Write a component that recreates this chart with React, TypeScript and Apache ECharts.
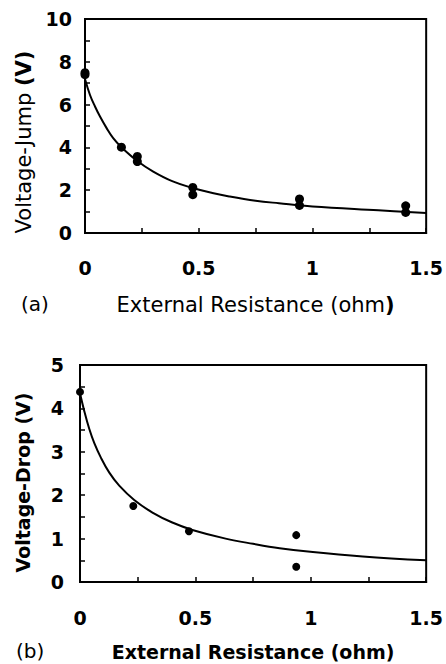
import React, { useEffect, useRef } from "react";
import * as echarts from "echarts";

// Panel (a): Voltage-Jump vs External Resistance
const jumpPointR = [0, 0, 0.16, 0.23, 0.23, 0.474, 0.474, 0.943, 0.943, 1.41, 1.41];
const jumpPointV = [7.49, 7.4, 4.01, 3.58, 3.34, 2.13, 1.79, 1.59, 1.29, 1.27, 0.96];
const jumpCurveR = [0, 0.022, 0.044, 0.066, 0.095, 0.124, 0.16, 0.233, 0.3, 0.386, 0.474, 0.56, 0.634, 0.75, 0.853, 1.0, 1.29, 1.5];
const jumpCurveV = [7.2, 6.45, 5.91, 5.44, 4.9, 4.43, 4.01, 3.34, 2.87, 2.41, 2.1, 1.87, 1.71, 1.51, 1.39, 1.24, 1.06, 0.93];

// Panel (b): Voltage-Drop vs External Resistance
const dropPointR = [0, 0.231, 0.472, 0.937, 0.937];
const dropPointV = [4.38, 1.75, 1.17, 1.08, 0.35];
const dropCurveR = [0, 0.019, 0.04, 0.062, 0.091, 0.127, 0.17, 0.235, 0.314, 0.4, 0.487, 0.631, 0.75, 0.865, 1.009, 1.225, 1.5];
const dropCurveV = [4.35, 3.93, 3.53, 3.2, 2.86, 2.52, 2.22, 1.89, 1.6, 1.37, 1.2, 1.0, 0.88, 0.78, 0.69, 0.59, 0.5];

const xTicks = [0, 0.5, 1, 1.5];

const FONT = "DejaVu Sans";

function zip(a: number[], b: number[]) {
  return a.map((v, i) => [v, b[i]]);
}

export default function App() {
  const ref = useRef<HTMLDivElement>(null);
  useEffect(() => {
    if (!ref.current) return;
    const chart = echarts.init(ref.current, undefined, { renderer: "svg" });
    const black = "#000";
    const axisCommon = () => ({
      axisLine: { show: true, lineStyle: { color: black, width: 2 } },
      axisTick: { show: true, inside: true, length: 5, lineStyle: { color: black, width: 1.5 } },
      minorTick: { show: true, splitNumber: 2, length: 5, lineStyle: { color: black, width: 1.5 } },
      splitLine: { show: false },
      axisLabel: {
        color: black,
        fontFamily: FONT,
        fontWeight: "bold",
        fontSize: 19,
        showMinLabel: true,
        showMaxLabel: true,
      },
    });
    const xAxisOf = (gridIndex: number, margin: number, name: string, rich: any, gap: number) => {
      const base = axisCommon();
      return {
        type: "value",
        gridIndex,
        min: 0,
        max: 1.5,
        interval: 0.5,
        name,
        nameLocation: "middle",
        nameGap: gap,
        nameTextStyle: { rich },
        ...base,
        axisLabel: { ...base.axisLabel, margin, formatter: (v: number) => (xTicks.includes(v) ? String(v) : "") },
      };
    };
    const yAxisOf = (gridIndex: number, max: number, interval: number, margin: number, name: string, rich: any, gap: number, shift: number) => {
      const base = axisCommon();
      return {
        type: "value",
        gridIndex,
        min: 0,
        max,
        interval,
        name,
        nameLocation: "middle",
        nameGap: gap,
        nameTextStyle: { rich, padding: [0, shift, 0, 0] },
        ...base,
        axisLabel: { ...base.axisLabel, margin },
      };
    };
    const option: any = {
      animation: false,
      backgroundColor: "#fff",
      textStyle: { fontFamily: FONT, color: black },
      grid: [
        { left: 85, right: 18, top: 19, height: 214, show: true, borderColor: black, borderWidth: 2 },
        { left: 80, right: 19, top: 365, height: 217, show: true, borderColor: black, borderWidth: 2 },
      ],
      xAxis: [
        xAxisOf(0, 25, "{r|External Resistance (ohm}{b|)}", {
          r: { fontFamily: FONT, fontSize: 21, color: black },
          b: { fontFamily: FONT, fontSize: 21, fontWeight: "bold", color: black },
        }, 61),
        xAxisOf(1, 26, "{b|External Resistance (ohm)}", {
          b: { fontFamily: FONT, fontSize: 19, fontWeight: "bold", color: black },
        }, 60),
      ],
      yAxis: [
        yAxisOf(0, 10, 2, 13, "{r|Voltage-Jump }{b|(V)}", {
          r: { fontFamily: FONT, fontSize: 21, color: black },
          b: { fontFamily: FONT, fontSize: 21, fontWeight: "bold", color: black },
        }, 51, 32),
        yAxisOf(1, 5, 1, 16, "{b|Voltage-Drop (V)}", {
          b: { fontFamily: FONT, fontSize: 19, fontWeight: "bold", color: black },
        }, 48, 18),
      ],
      graphic: [
        { type: "text", left: 21, top: 294, style: { text: "(a)", fontFamily: FONT, fontSize: 20, fill: black } },
        { type: "text", left: 16, top: 641, style: { text: "(b)", fontFamily: FONT, fontSize: 20, fill: black } },
      ],
      series: [
        {
          type: "line",
          xAxisIndex: 0,
          yAxisIndex: 0,
          data: zip(jumpCurveR, jumpCurveV),
          smooth: 0.4,
          showSymbol: false,
          symbol: "none",
          lineStyle: { color: black, width: 2 },
        },
        {
          type: "scatter",
          xAxisIndex: 0,
          yAxisIndex: 0,
          data: zip(jumpPointR, jumpPointV),
          symbolSize: 9,
          itemStyle: { color: black, opacity: 1 },
        },
        {
          type: "line",
          xAxisIndex: 1,
          yAxisIndex: 1,
          data: zip(dropCurveR, dropCurveV),
          smooth: 0.4,
          showSymbol: false,
          symbol: "none",
          lineStyle: { color: black, width: 2 },
        },
        {
          type: "scatter",
          xAxisIndex: 1,
          yAxisIndex: 1,
          data: zip(dropPointR, dropPointV),
          symbolSize: 8,
          itemStyle: { color: black, opacity: 1 },
        },
      ],
    };
    chart.setOption(option);
    return () => chart.dispose();
  }, []);
  return <div ref={ref} style={{ position: "absolute", left: 0, top: 0, width: 446, height: 664 }} />;
}
